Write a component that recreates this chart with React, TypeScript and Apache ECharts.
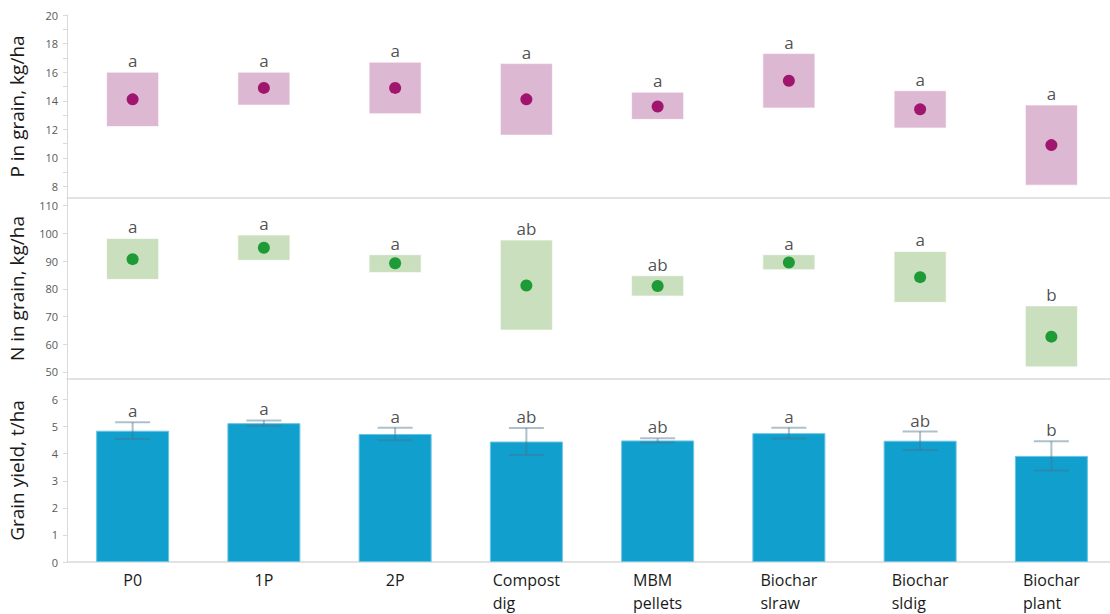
import React, { useEffect, useRef } from "react";
import * as echarts from "echarts";

const categories = ["P0", "1P", "2P", "Compost\ndig", "MBM\npellets", "Biochar\nslraw", "Biochar\nsldig", "Biochar\nplant"];

const pMean = [14.1, 14.9, 14.9, 14.1, 13.6, 15.4, 13.4, 10.9];
const pLow = [12.2, 13.7, 13.1, 11.6, 12.7, 13.5, 12.1, 8.1];
const pHigh = [16.0, 16.0, 16.7, 16.6, 14.6, 17.3, 14.7, 13.7];
const pLetters = ["a", "a", "a", "a", "a", "a", "a", "a"];

const nMean = [90.7, 94.8, 89.2, 81.2, 81.0, 89.5, 84.2, 62.7];
const nLow = [83.4, 90.3, 85.9, 65.1, 77.4, 86.9, 75.1, 51.8];
const nHigh = [98.2, 99.4, 92.3, 97.6, 84.7, 92.3, 93.5, 73.8];
const nLetters = ["a", "a", "a", "ab", "ab", "a", "a", "b"];

const yieldMean = [4.85, 5.13, 4.73, 4.45, 4.49, 4.76, 4.48, 3.92];
const yieldErr = [0.31, 0.1, 0.23, 0.5, 0.08, 0.2, 0.34, 0.54];
const yieldLetters = ["a", "a", "a", "ab", "ab", "a", "ab", "b"];

const pTicks = [8, 10, 12, 14, 16, 18, 20];
const nTicks = [50, 60, 70, 80, 90, 100, 110];
const yTicks = [0, 1, 2, 3, 4, 5, 6];

const FONT = "'Open Sans', 'Noto Sans', sans-serif";
const AXIS_GREY = "#d9d9d9";

function boxSeries(idx: number, low: number[], high: number[], color: string) {
  return {
    type: "custom",
    xAxisIndex: idx,
    yAxisIndex: idx,
    silent: true,
    data: categories.map((_, i) => [i, low[i], high[i]]),
    renderItem: (params: any, api: any) => {
      const i = api.value(0);
      const lo = api.coord([i, api.value(1)]);
      const hi = api.coord([i, api.value(2)]);
      const w = 52;
      return {
        type: "rect",
        shape: { x: lo[0] - w / 2, y: hi[1], width: w, height: lo[1] - hi[1] },
        style: { fill: color, stroke: "rgba(255,255,255,0.6)", lineWidth: 1 },
      };
    },
    z: 2,
  };
}

function dotSeries(idx: number, mean: number[], color: string) {
  return {
    type: "scatter",
    xAxisIndex: idx,
    yAxisIndex: idx,
    symbolSize: 12,
    itemStyle: { color, opacity: 1 },
    data: mean.map((v, i) => [i, v]),
    z: 3,
  };
}

function letterSeries(idx: number, tops: number[], letters: string[], dist: number) {
  return {
    type: "scatter",
    xAxisIndex: idx,
    yAxisIndex: idx,
    symbolSize: 0,
    silent: true,
    itemStyle: { color: "transparent" },
    data: tops.map((v, i) => ({ value: [i, v], letter: letters[i] })),
    label: {
      show: true,
      position: "top",
      distance: dist,
      formatter: (p: any) => p.data.letter,
      fontFamily: FONT,
      fontSize: 17,
      color: "#222222",
    },
    z: 4,
  };
}

function yAxis(idx: number, min: number, max: number, ticks: number[], name: string, minorTicks: number[] | null) {
  return {
    type: "value",
    gridIndex: idx,
    min,
    max,
    name,
    nameLocation: "middle",
    nameGap: 41,
    nameTextStyle: { fontFamily: FONT, fontSize: 19, color: "#1a1a1a" },
    axisLine: { show: true, lineStyle: { color: AXIS_GREY, width: 1 } },
    axisTick: { show: true, customValues: minorTicks || ticks, length: 4, lineStyle: { color: AXIS_GREY } },
    axisLabel: { customValues: ticks, fontFamily: FONT, fontSize: 11, color: "#595959", margin: 9 },
    splitLine: { show: false },
  };
}

function xAxis(idx: number, showLabels: boolean) {
  return {
    type: "category",
    gridIndex: idx,
    data: categories,
    axisLine: { show: true, lineStyle: { color: AXIS_GREY, width: 1.5 } },
    axisTick: { show: false },
    axisLabel: showLabels
      ? {
          show: true,
          interval: 0,
          margin: 6,
          formatter: (v: string) => v.split("\n").map((l) => `{l|${l}}`).join("\n"),
          rich: {
            l: { align: "left", fontFamily: FONT, fontSize: 16, color: "#1a1a1a", lineHeight: 23 },
          },
        }
      : { show: false },
    splitLine: { show: false },
  };
}

export default function App() {
  const ref = useRef<HTMLDivElement>(null);
  useEffect(() => {
    if (!ref.current) return;
    const chart = echarts.init(ref.current, null, { renderer: "svg" });
    const pMinor = [8, 9, 10, 11, 12, 13, 14, 15, 16, 17, 18, 19, 20];
    const option: any = {
      animation: false,
      backgroundColor: "#ffffff",
      grid: [
        { left: 67, right: -7, top: 15, height: 183, outerBoundsMode: "none", containLabel: false },
        { left: 67, right: -7, top: 198, height: 181, outerBoundsMode: "none", containLabel: false },
        { left: 67, right: -7, top: 379, height: 183, outerBoundsMode: "none", containLabel: false },
      ],
      xAxis: [xAxis(0, false), xAxis(1, false), xAxis(2, true)],
      yAxis: [
        yAxis(0, 7.2, 20, pTicks, "P in grain, kg/ha", pMinor),
        yAxis(1, 47.4, 112.8, nTicks, "N in grain, kg/ha", null),
        yAxis(2, 0, 6.76, yTicks, "Grain yield, t/ha", null),
      ],
      series: [
        boxSeries(0, pLow, pHigh, "#dcb8d2"),
        dotSeries(0, pMean, "#a0166f"),
        letterSeries(0, pHigh, pLetters, 3),
        boxSeries(1, nLow, nHigh, "#c9dfbd"),
        dotSeries(1, nMean, "#1e9b37"),
        letterSeries(1, nHigh, nLetters, 3),
        {
          type: "bar",
          xAxisIndex: 2,
          yAxisIndex: 2,
          barWidth: 73,
          data: yieldMean,
          itemStyle: { color: "#119fce", borderColor: "#6cc3e3", borderWidth: 1 },
          z: 2,
        },
        {
          type: "custom",
          xAxisIndex: 2,
          yAxisIndex: 2,
          silent: true,
          data: yieldMean.map((v, i) => [i, v - yieldErr[i], v + yieldErr[i]]),
          renderItem: (params: any, api: any) => {
            const i = api.value(0);
            const lo = api.coord([i, api.value(1)]);
            const hi = api.coord([i, api.value(2)]);
            const cw = 35;
            const style = { stroke: "rgba(70,115,145,0.45)", lineWidth: 2 };
            return {
              type: "group",
              children: [
                { type: "line", shape: { x1: lo[0], y1: lo[1], x2: hi[0], y2: hi[1] }, style },
                { type: "line", shape: { x1: hi[0] - cw / 2, y1: hi[1], x2: hi[0] + cw / 2, y2: hi[1] }, style },
                { type: "line", shape: { x1: lo[0] - cw / 2, y1: lo[1], x2: lo[0] + cw / 2, y2: lo[1] }, style },
              ],
            };
          },
          z: 3,
        },
        letterSeries(2, yieldMean.map((v, i) => v + yieldErr[i]), yieldLetters, 3),
      ],
    };
    chart.setOption(option);
    return () => chart.dispose();
  }, []);
  return (
    <div
      ref={ref}
      style={{ position: "fixed", left: 0, top: 0, width: 1110, height: 614 }}
    />
  );
}
